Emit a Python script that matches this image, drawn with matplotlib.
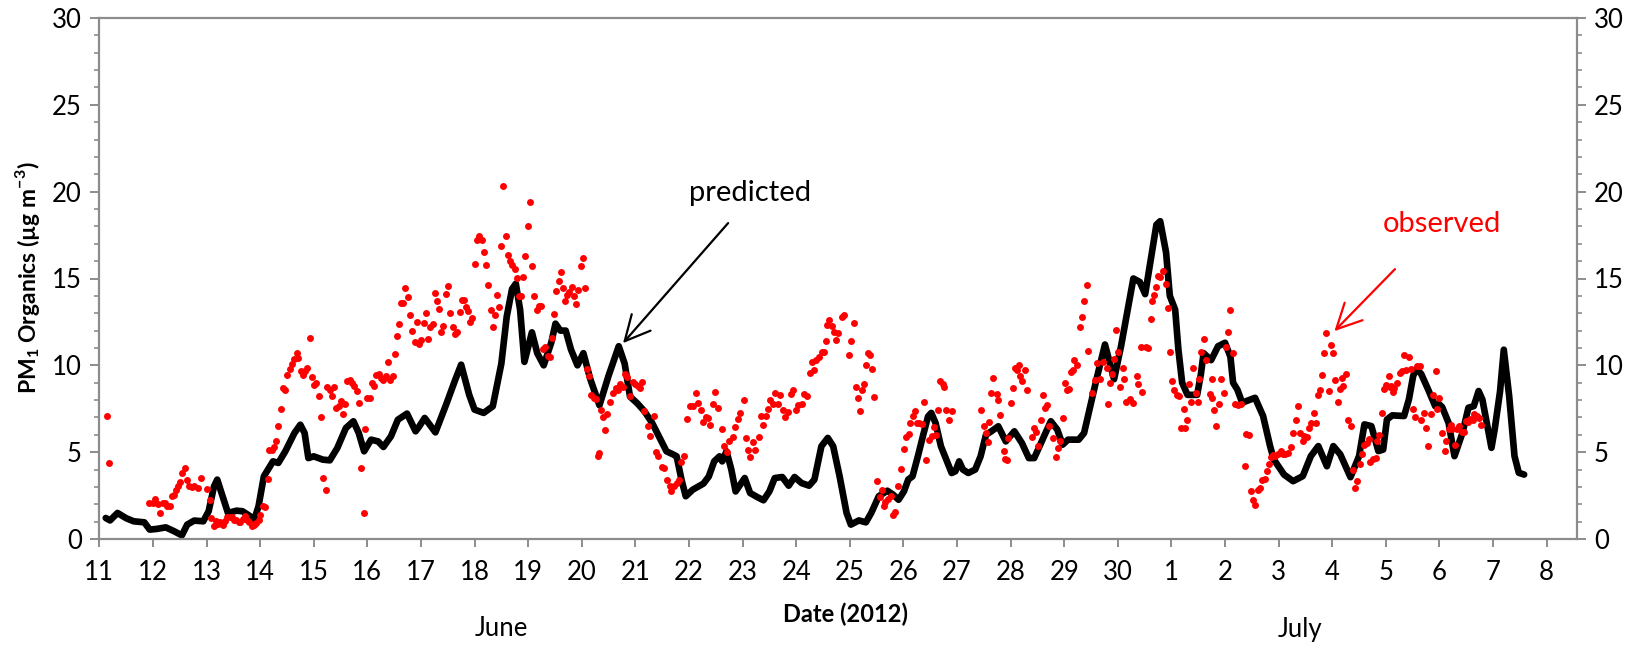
import matplotlib
matplotlib.use("Agg")
import matplotlib.pyplot as plt
from matplotlib.ticker import MultipleLocator, FixedLocator

plt.rcParams['font.family'] = ['Lato', 'DejaVu Sans']
plt.rcParams['mathtext.fontset'] = 'custom'
plt.rcParams['mathtext.rm'] = 'Lato'
plt.rcParams['mathtext.bf'] = 'Lato:bold'

# Day numbers: 11-30 = June 11-30, 31-38 = July 1-8
pred_day = [11.12, 11.20, 11.34, 11.50, 11.64, 11.84, 11.94, 12.07, 12.24, 12.40, 12.54, 12.64, 12.77, 12.94,
            13.04, 13.14, 13.20, 13.28, 13.40, 13.56, 13.67, 13.80, 13.89, 13.97, 14.07, 14.24, 14.34, 14.47,
            14.64, 14.75, 14.83, 14.90, 15.00, 15.17, 15.30, 15.44, 15.60, 15.74, 15.84, 15.94, 16.07, 16.20,
            16.30, 16.44, 16.57, 16.74, 16.90, 16.97, 17.07, 17.27, 17.47, 17.64, 17.75, 17.90, 18.00, 18.17,
            18.34, 18.44, 18.50, 18.60, 18.70, 18.77, 18.85, 18.93, 19.07, 19.17, 19.29, 19.43, 19.51, 19.60,
            19.70, 19.80, 19.92, 20.03, 20.16, 20.33, 20.50, 20.69, 20.80, 20.90, 21.04, 21.17, 21.31, 21.44,
            21.58, 21.71, 21.77, 21.86, 21.94, 22.07, 22.27, 22.37, 22.47, 22.57, 22.62, 22.70, 22.79, 22.87,
            23.04, 23.14, 23.27, 23.39, 23.50, 23.60, 23.74, 23.86, 23.97, 24.10, 24.24, 24.34, 24.47, 24.59,
            24.69, 24.81, 24.94, 25.02, 25.17, 25.30, 25.40, 25.54, 25.70, 25.81, 25.91, 26.01, 26.09, 26.17,
            26.27, 26.37, 26.46, 26.52, 26.60, 26.70, 26.80, 26.90, 26.97, 27.04, 27.11, 27.21, 27.34, 27.44,
            27.54, 27.64, 27.77, 27.91, 28.07, 28.21, 28.34, 28.44, 28.61, 28.75, 28.87, 28.97, 29.07, 29.27,
            29.37, 29.50, 29.60, 29.76, 29.93, 30.06, 30.29, 30.41, 30.51, 30.72, 30.79, 30.90, 30.97, 31.07,
            31.13, 31.20, 31.30, 31.48, 31.55, 31.60, 31.74, 31.87, 32.00, 32.10, 32.15, 32.23, 32.32, 32.45,
            32.56, 32.71, 32.84, 32.91, 33.10, 33.27, 33.45, 33.60, 33.74, 33.90, 34.02, 34.15, 34.34, 34.50,
            34.60, 34.73, 34.86, 34.95, 35.02, 35.12, 35.34, 35.43, 35.51, 35.57, 35.66, 35.79, 35.92, 35.98,
            36.05, 36.17, 36.28, 36.43, 36.54, 36.64, 36.73, 36.80, 36.97, 37.03, 37.13, 37.20, 37.30, 37.40,
            37.48, 37.58]
pred_val = [1.21, 1.07, 1.50, 1.20, 1.02, 0.96, 0.54, 0.58, 0.67, 0.44, 0.21, 0.83, 1.06, 1.02,
            1.60, 3.03, 3.42, 2.65, 1.50, 1.63, 1.60, 1.34, 1.11, 1.88, 3.61, 4.47, 4.38, 5.05,
            6.10, 6.58, 6.10, 4.66, 4.76, 4.57, 4.53, 5.24, 6.39, 6.78, 6.10, 5.05, 5.72, 5.62,
            5.30, 5.91, 6.87, 7.22, 6.20, 6.49, 6.97, 6.14, 7.74, 9.17, 10.04, 8.30, 7.45, 7.26,
            7.64, 9.17, 10.10, 12.80, 14.40, 14.70, 13.20, 10.20, 11.90, 10.70, 10.00, 11.30, 12.40, 12.00,
            12.00, 10.90, 10.00, 10.70, 9.20, 7.70, 9.40, 11.10, 10.10, 8.20, 7.80, 7.35, 6.70, 5.90,
            5.05, 4.86, 4.76, 3.42, 2.46, 2.84, 3.19, 3.60, 4.47, 4.76, 4.47, 5.05, 4.00, 2.74,
            3.51, 2.65, 2.42, 2.23, 2.74, 3.51, 3.57, 3.07, 3.57, 3.22, 3.07, 3.42, 5.34, 5.82,
            5.34, 3.61, 1.50, 0.83, 1.07, 0.96, 1.50, 2.46, 2.78, 2.55, 2.26, 2.74, 3.42, 3.61,
            4.76, 6.00, 7.06, 7.26, 6.68, 5.34, 4.57, 3.80, 3.90, 4.47, 4.00, 3.80, 4.00, 4.76,
            6.00, 6.20, 6.49, 5.62, 6.20, 5.53, 4.66, 4.66, 5.82, 6.78, 6.30, 5.43, 5.72, 5.72,
            6.10, 7.83, 9.17, 11.20, 9.20, 11.10, 15.00, 14.80, 14.10, 18.10, 18.30, 16.50, 14.00, 13.20,
            10.90, 9.00, 8.30, 8.30, 9.50, 10.70, 10.30, 11.10, 11.30, 10.50, 9.00, 8.60, 7.85, 8.00,
            8.13, 7.08, 5.35, 4.58, 3.71, 3.33, 3.62, 4.77, 5.35, 4.19, 5.35, 4.87, 3.56, 4.77,
            6.60, 6.50, 5.06, 5.15, 6.88, 7.12, 7.08, 8.04, 9.40, 9.80, 9.50, 8.60, 7.65, 7.80,
            7.60, 6.69, 4.77, 6.12, 7.56, 7.65, 8.52, 8.04, 5.25, 6.31, 8.50, 10.90, 8.23, 4.77,
            3.81, 3.71]

obs_day = [11.15, 11.19, 11.93, 12.00, 12.04, 12.09, 12.14, 12.18, 12.22, 12.27, 12.31, 12.35, 12.39, 12.43,
           12.47, 12.51, 12.55, 12.60, 12.63, 12.68, 12.72, 12.76, 12.84, 12.89, 13.01, 13.06, 13.09, 13.14,
           13.18, 13.22, 13.26, 13.30, 13.34, 13.39, 13.43, 13.47, 13.51, 13.55, 13.60, 13.63, 13.68, 13.72,
           13.76, 13.80, 13.84, 13.88, 13.93, 13.97, 14.00, 14.05, 14.09, 14.14, 14.17, 14.22, 14.25, 14.30,
           14.34, 14.39, 14.42, 14.47, 14.51, 14.55, 14.59, 14.63, 14.68, 14.71, 14.76, 14.80, 14.84, 14.88,
           14.93, 14.97, 15.00, 15.05, 15.09, 15.13, 15.17, 15.22, 15.25, 15.30, 15.34, 15.38, 15.42, 15.47,
           15.51, 15.55, 15.59, 15.63, 15.68, 15.71, 15.76, 15.80, 15.84, 15.88, 15.93, 15.96, 16.00, 16.05,
           16.09, 16.13, 16.17, 16.22, 16.25, 16.30, 16.34, 16.38, 16.42, 16.47, 16.51, 16.55, 16.59, 16.63,
           16.67, 16.71, 16.75, 16.80, 16.84, 16.88, 16.92, 16.97, 17.01, 17.05, 17.09, 17.13, 17.17, 17.22,
           17.26, 17.30, 17.34, 17.38, 17.42, 17.47, 17.51, 17.55, 17.59, 17.63, 17.68, 17.72, 17.76, 17.80,
           17.84, 17.88, 17.92, 17.96, 18.00, 18.05, 18.09, 18.13, 18.17, 18.21, 18.25, 18.30, 18.34, 18.38,
           18.42, 18.46, 18.50, 18.54, 18.58, 18.62, 18.66, 18.70, 18.75, 18.79, 18.83, 18.87, 18.91, 18.95,
           18.99, 19.03, 19.07, 19.11, 19.16, 19.20, 19.24, 19.27, 19.31, 19.37, 19.40, 19.44, 19.48, 19.52,
           19.57, 19.61, 19.65, 19.69, 19.73, 19.77, 19.81, 19.85, 19.89, 19.93, 19.98, 20.02, 20.06, 20.10,
           20.14, 20.18, 20.22, 20.26, 20.30, 20.32, 20.36, 20.40, 20.44, 20.48, 20.53, 20.58, 20.63, 20.67,
           20.71, 20.76, 20.80, 20.85, 20.90, 20.95, 21.00, 21.05, 21.09, 21.13, 21.17, 21.24, 21.27, 21.34,
           21.39, 21.42, 21.49, 21.54, 21.59, 21.64, 21.67, 21.72, 21.77, 21.82, 21.86, 21.91, 21.97, 22.02,
           22.07, 22.13, 22.17, 22.22, 22.27, 22.32, 22.36, 22.40, 22.44, 22.49, 22.54, 22.61, 22.66, 22.71,
           22.75, 22.82, 22.86, 22.91, 22.95, 23.02, 23.06, 23.10, 23.14, 23.19, 23.24, 23.30, 23.35, 23.39,
           23.44, 23.47, 23.52, 23.57, 23.60, 23.66, 23.70, 23.75, 23.80, 23.85, 23.90, 23.94, 23.99, 24.04,
           24.11, 24.15, 24.21, 24.26, 24.29, 24.33, 24.37, 24.43, 24.48, 24.52, 24.56, 24.58, 24.62, 24.67,
           24.70, 24.75, 24.78, 24.86, 24.90, 24.98, 25.03, 25.07, 25.11, 25.16, 25.19, 25.23, 25.27, 25.30,
           25.34, 25.37, 25.41, 25.46, 25.50, 25.57, 25.60, 25.63, 25.66, 25.72, 25.76, 25.80, 25.85, 25.90,
           25.96, 26.01, 26.05, 26.10, 26.13, 26.18, 26.21, 26.25, 26.30, 26.34, 26.38, 26.43, 26.48, 26.53,
           26.58, 26.61, 26.65, 26.69, 26.73, 26.76, 26.80, 26.85, 26.90, 27.44, 27.50, 27.54, 27.57, 27.60,
           27.64, 27.68, 27.74, 27.77, 27.80, 27.87, 27.90, 27.93, 27.96, 28.00, 28.04, 28.08, 28.11, 28.15,
           28.18, 28.22, 28.27, 28.31, 28.40, 28.44, 28.47, 28.52, 28.57, 28.60, 28.64, 28.67, 28.72, 28.80,
           28.84, 28.88, 28.92, 28.98, 29.02, 29.05, 29.09, 29.13, 29.16, 29.19, 29.23, 29.29, 29.33, 29.36,
           29.42, 29.45, 29.52, 29.58, 29.61, 29.67, 29.73, 29.80, 29.81, 29.86, 29.89, 29.93, 29.96, 30.00,
           30.04, 30.10, 30.11, 30.16, 30.22, 30.28, 30.35, 30.37, 30.43, 30.45, 30.52, 30.56, 30.61, 30.64,
           30.68, 30.72, 30.75, 30.79, 30.84, 30.89, 30.94, 30.98, 31.01, 31.04, 31.11, 31.15, 31.18, 31.23,
           31.25, 31.29, 31.33, 31.37, 31.40, 31.45, 31.50, 31.52, 31.56, 31.61, 31.65, 31.72, 31.76, 31.76,
           31.80, 31.84, 31.88, 31.92, 31.98, 32.01, 32.05, 32.10, 32.14, 32.19, 32.24, 32.29, 32.37, 32.40,
           32.45, 32.48, 32.52, 32.56, 32.61, 32.65, 32.69, 32.74, 32.78, 32.82, 32.86, 32.89, 32.94, 32.99,
           33.04, 33.08, 33.12, 33.17, 33.23, 33.27, 33.32, 33.36, 33.40, 33.45, 33.48, 33.53, 33.57, 33.60,
           33.66, 33.70, 33.73, 33.77, 33.80, 33.84, 33.89, 33.94, 33.97, 34.02, 34.05, 34.10, 34.15, 34.18,
           34.20, 34.26, 34.30, 34.35, 34.38, 34.43, 34.47, 34.52, 34.56, 34.60, 34.64, 34.68, 34.71, 34.76,
           34.81, 34.83, 34.87, 34.92, 34.96, 35.01, 35.06, 35.07, 35.10, 35.13, 35.15, 35.20, 35.27, 35.30,
           35.34, 35.38, 35.43, 35.47, 35.50, 35.54, 35.58, 35.64, 35.66, 35.71, 35.75, 35.79, 35.84, 35.88,
           35.93, 35.95, 35.99, 36.05, 36.10, 36.12, 36.18, 36.21, 36.24, 36.29, 36.32, 36.37, 36.42, 36.46,
           36.50, 36.53, 36.57, 36.62, 36.65, 36.70, 36.74, 36.77]
obs_val = [7.09, 4.36, 2.06, 2.10, 2.28, 1.99, 1.52, 2.06, 2.06, 1.90, 1.90, 2.47, 2.51, 2.82,
           3.06, 3.30, 3.82, 4.08, 3.41, 3.06, 3.01, 3.06, 2.94, 3.53, 2.89, 2.25, 1.21, 0.74,
           1.04, 0.85, 0.97, 0.81, 1.04, 1.28, 1.28, 1.28, 1.11, 1.09, 0.97, 0.97, 1.16, 1.35,
           1.11, 0.97, 0.74, 0.81, 0.92, 1.11, 1.40, 1.92, 1.87, 3.46, 5.12, 5.12, 5.31, 5.62,
           6.50, 7.49, 8.68, 8.58, 9.46, 9.77, 10.05, 10.34, 10.72, 10.41, 9.70, 9.46, 9.70, 9.86,
           11.57, 9.34, 8.87, 8.99, 8.23, 7.02, 3.49, 2.82, 8.75, 8.56, 8.23, 8.75, 7.56, 7.68,
           7.92, 7.21, 7.80, 9.10, 9.18, 8.99, 8.82, 8.51, 7.85, 4.06, 1.52, 6.36, 8.13, 8.13,
           8.99, 8.82, 9.46, 9.51, 9.27, 9.18, 9.39, 10.17, 9.18, 9.41, 10.65, 11.71, 12.38, 13.61,
           13.61, 14.44, 13.92, 12.90, 11.95, 11.36, 12.50, 11.23, 11.48, 12.44, 13.00, 11.54, 12.19, 12.40,
           14.17, 13.69, 13.26, 11.92, 12.28, 14.10, 14.55, 12.99, 12.19, 11.80, 11.90, 13.09, 13.78, 13.78,
           13.36, 13.15, 12.48, 12.74, 15.83, 17.24, 17.47, 17.24, 16.55, 15.80, 14.63, 13.20, 12.21, 12.88,
           14.07, 13.36, 16.89, 20.31, 17.43, 16.33, 15.99, 15.80, 15.57, 15.03, 14.01, 13.97, 15.07, 16.28,
           18.04, 19.41, 15.72, 14.01, 13.20, 13.40, 13.44, 10.94, 11.06, 10.52, 10.48, 11.55, 12.96, 14.26,
           14.84, 15.37, 14.43, 13.69, 14.03, 14.20, 14.51, 14.01, 13.55, 14.36, 15.70, 16.16, 14.43, 9.79,
           9.37, 8.31, 8.12, 8.06, 4.80, 4.95, 7.40, 7.00, 6.30, 7.20, 7.90, 8.40, 8.70, 8.60,
           8.90, 8.75, 9.50, 9.30, 8.25, 9.05, 8.95, 8.80, 8.70, 9.05, 7.35, 6.50, 5.95, 7.10,
           5.00, 4.76, 4.15, 4.09, 3.42, 3.07, 2.74, 3.07, 3.22, 3.38, 4.41, 4.80, 6.90, 7.64,
           7.68, 8.41, 7.83, 7.41, 6.72, 7.03, 6.97, 6.58, 7.79, 8.45, 7.54, 6.33, 5.34, 4.99,
           5.62, 5.87, 6.45, 6.91, 7.26, 8.02, 5.82, 5.14, 4.72, 5.57, 5.10, 5.87, 7.06, 6.58,
           7.06, 7.49, 8.02, 7.79, 8.41, 7.79, 8.31, 7.45, 7.02, 7.29, 8.37, 8.56, 7.45, 7.74,
           7.79, 8.37, 8.21, 9.56, 10.17, 9.75, 10.33, 10.48, 10.75, 10.75, 11.42, 12.34, 12.63, 12.28,
           11.90, 11.48, 11.86, 12.78, 12.88, 10.61, 11.42, 12.44, 8.75, 8.12, 7.35, 8.60, 8.92, 10.04,
           10.71, 10.58, 9.79, 8.20, 3.32, 2.42, 2.80, 1.92, 2.11, 2.30, 2.50, 1.40, 1.54, 3.07,
           4.03, 5.18, 5.87, 6.07, 6.68, 7.10, 7.35, 6.68, 6.68, 6.64, 7.87, 4.57, 5.72, 5.91,
           6.45, 6.00, 7.41, 9.08, 8.90, 8.75, 7.45, 6.87, 7.35, 7.41, 6.49, 6.10, 5.57, 6.72,
           8.41, 9.27, 8.37, 8.02, 7.16, 5.05, 4.61, 4.57, 5.82, 7.83, 8.70, 9.85, 9.75, 10.04,
           9.40, 9.08, 9.75, 8.56, 5.87, 6.39, 6.14, 5.34, 6.83, 8.31, 7.54, 7.74, 6.49, 5.82,
           4.72, 5.24, 5.62, 6.97, 9.00, 8.60, 8.64, 9.60, 9.75, 10.33, 10.00, 12.19, 12.78, 13.69,
           14.64, 10.80, 8.40, 9.17, 10.13, 9.20, 10.20, 9.87, 7.80, 9.00, 9.50, 10.34, 12.06, 10.76,
           8.77, 9.87, 9.20, 7.90, 8.05, 7.85, 9.39, 8.90, 11.05, 8.46, 11.07, 10.98, 12.64, 13.69,
           14.03, 14.49, 15.12, 15.07, 15.41, 14.70, 13.29, 10.76, 9.10, 8.58, 8.30, 8.25, 6.40, 7.46,
           6.40, 6.88, 8.90, 7.90, 9.87, 8.40, 7.90, 9.24, 10.76, 11.53, 10.31, 8.33, 9.20, 8.13,
           7.42, 6.50, 7.75, 9.20, 8.40, 11.07, 11.91, 13.17, 10.69, 7.80, 7.70, 7.80, 4.19, 6.02,
           5.96, 2.75, 2.27, 1.98, 2.85, 2.94, 3.38, 3.48, 3.90, 4.29, 4.73, 4.81, 4.77, 4.92,
           5.06, 4.87, 4.92, 4.96, 5.31, 6.12, 6.88, 7.65, 6.08, 5.63, 5.92, 5.88, 6.40, 6.69,
           7.27, 6.69, 8.27, 8.59, 9.43, 10.73, 11.84, 8.53, 11.15, 10.73, 9.16, 7.90, 8.66, 9.29,
           8.80, 9.48, 6.88, 6.50, 3.96, 2.94, 3.33, 4.29, 4.92, 5.44, 5.50, 5.73, 4.42, 4.62,
           4.67, 5.63, 5.96, 7.23, 8.62, 8.85, 9.39, 8.77, 8.81, 8.45, 8.71, 9.00, 9.58, 9.67,
           10.57, 9.73, 10.50, 9.77, 7.50, 7.04, 9.96, 9.96, 6.88, 7.27, 6.40, 5.35, 7.17, 8.27,
           9.67, 7.50, 8.13, 6.12, 5.06, 5.63, 6.31, 6.54, 6.31, 5.44, 6.31, 6.50, 6.15, 6.15,
           6.79, 6.73, 6.92, 6.88, 7.17, 7.08, 6.98, 6.54]

day_ticks = list(range(11, 39))
day_labels = [str(d) for d in range(11, 31)] + [str(d) for d in range(1, 9)]

W, H = 1645, 646
fig = plt.figure(figsize=(W / 100, H / 100), dpi=100)
ax = fig.add_axes([99.3 / W, 1 - 539 / H, (1576.7 - 99.3) / W, (539 - 18) / H])

ax.plot(pred_day, pred_val, color='black', lw=4.8, solid_joinstyle='round',
        solid_capstyle='round', zorder=2)
ax.plot(obs_day, obs_val, 'o', color='#ff0000', ms=5.0, mec='none', zorder=3)

ax.set_xlim(11, 38.56)
ax.set_ylim(0, 30)

grey = '#8c8c8c'
for s in ax.spines.values():
    s.set_color(grey)
    s.set_linewidth(1.6)

tick_fs = 18.5
ax.xaxis.set_major_locator(FixedLocator(day_ticks))
ax.set_xticklabels(day_labels)
ax.yaxis.set_major_locator(MultipleLocator(5))
ax.yaxis.set_minor_locator(MultipleLocator(1))
ax.tick_params(axis='x', which='major', direction='out', length=6, width=1.4,
               color=grey, labelsize=tick_fs, pad=9)
ax.tick_params(axis='y', which='major', direction='out', length=6.5, width=1.4,
               color=grey, labelsize=tick_fs, pad=6, left=True, right=True,
               labelleft=True, labelright=True)
ax.tick_params(axis='y', which='minor', direction='out', length=3.5, width=1.2,
               color=grey, left=True, right=True)

fig.text(28 / W, 1 - 278 / H, r'PM$_\mathbf{1}$ Organics (µg m$^\mathbf{-3}$)',
         rotation=90, ha='center', va='center', fontsize=16.5, fontweight='bold')
fig.text(846 / W, 1 - 614 / H, 'Date (2012)', ha='center', va='center',
         fontsize=17, fontweight='bold')
fig.text(501 / W, 1 - 629 / H, 'June', ha='center', va='center', fontsize=tick_fs)
fig.text(1300 / W, 1 - 629 / H, 'July', ha='center', va='center', fontsize=tick_fs)

ax.text(23.14, 19.9, 'predicted', ha='center', va='center', fontsize=21, color='black')
ax.annotate('', xy=(20.77, 11.28), xytext=(22.73, 18.19),
            arrowprops=dict(arrowstyle='->,head_length=0.9,head_width=0.45',
                            color='black', lw=1.6, mutation_scale=20, shrinkA=0, shrinkB=0))
ax.text(36.05, 18.15, 'observed', ha='center', va='center', fontsize=21, color='#ff0000')
ax.annotate('', xy=(34.04, 11.97), xytext=(35.17, 15.54),
            arrowprops=dict(arrowstyle='->,head_length=0.9,head_width=0.45',
                            color='#ff0000', lw=1.6, mutation_scale=20, shrinkA=0, shrinkB=0))

fig.savefig('out.png', dpi=100)
